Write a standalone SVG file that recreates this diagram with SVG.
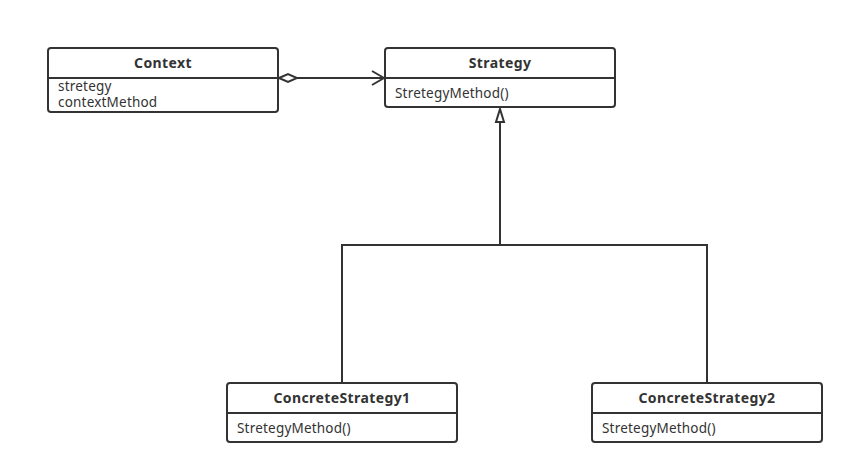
<svg xmlns="http://www.w3.org/2000/svg" width="854" height="475" viewBox="0 0 854 475">
<style>
.box{fill:#fff;stroke:#333;stroke-width:2}
.div{stroke:#333;stroke-width:2}
.t{font-family:"Noto Sans","Open Sans",sans-serif;font-size:14px;font-weight:bold;fill:#333;text-anchor:middle;letter-spacing:0.4px}
.a{font-family:"Noto Sans","Open Sans",sans-serif;font-size:13.5px;fill:#333;letter-spacing:0.2px}
.c{fill:none;stroke:#333;stroke-width:2}
</style>
<defs>
<marker id="open" markerWidth="14" markerHeight="16" refX="13" refY="8" orient="auto" markerUnits="userSpaceOnUse">
<path d="M1,1 L13,8 L1,15" fill="none" stroke="#333" stroke-width="2"/>
</marker>
<marker id="diamond" markerWidth="22" markerHeight="12" refX="1" refY="6" orient="auto" markerUnits="userSpaceOnUse">
<path d="M1,6 L10,2 L19,6 L10,10 Z" fill="#fff" stroke="#333" stroke-width="2"/>
</marker>
<marker id="tri" markerWidth="12" markerHeight="16" refX="6" refY="1" orient="0" markerUnits="userSpaceOnUse">
<path d="M6,1 L10,14 L2,14 Z" fill="#fff" stroke="#333" stroke-width="2"/>
</marker>
</defs>
<g id="connectors">
<path class="c" d="M279,78 L384,78" marker-start="url(#diamond)" marker-end="url(#open)"/>
<path class="c" d="M342,383 L342,245 L707,245 L707,383"/>
<path class="c" d="M500,245 L500,109" marker-end="url(#tri)"/>
</g>
<g id="context">
<rect class="box" x="48" y="48" width="230" height="64" rx="3"/>
<line class="div" x1="48" y1="78" x2="278" y2="78"/>
<text class="t" x="163" y="68">Context</text>
<text class="a" x="58" y="91">stretegy</text>
<text class="a" x="58" y="107">contextMethod</text>
</g>
<g id="strategy">
<rect class="box" x="385" y="48" width="230" height="59" rx="3"/>
<line class="div" x1="385" y1="78" x2="615" y2="78"/>
<text class="t" x="500" y="68">Strategy</text>
<text class="a" x="395" y="98">StretegyMethod()</text>
</g>
<g id="concrete1">
<rect class="box" x="227" y="383" width="230" height="59" rx="3"/>
<line class="div" x1="227" y1="413" x2="457" y2="413"/>
<text class="t" x="342" y="403">ConcreteStrategy1</text>
<text class="a" x="237" y="433">StretegyMethod()</text>
</g>
<g id="concrete2">
<rect class="box" x="592" y="383" width="230" height="59" rx="3"/>
<line class="div" x1="592" y1="413" x2="822" y2="413"/>
<text class="t" x="707" y="403">ConcreteStrategy2</text>
<text class="a" x="602" y="433">StretegyMethod()</text>
</g>
</svg>
